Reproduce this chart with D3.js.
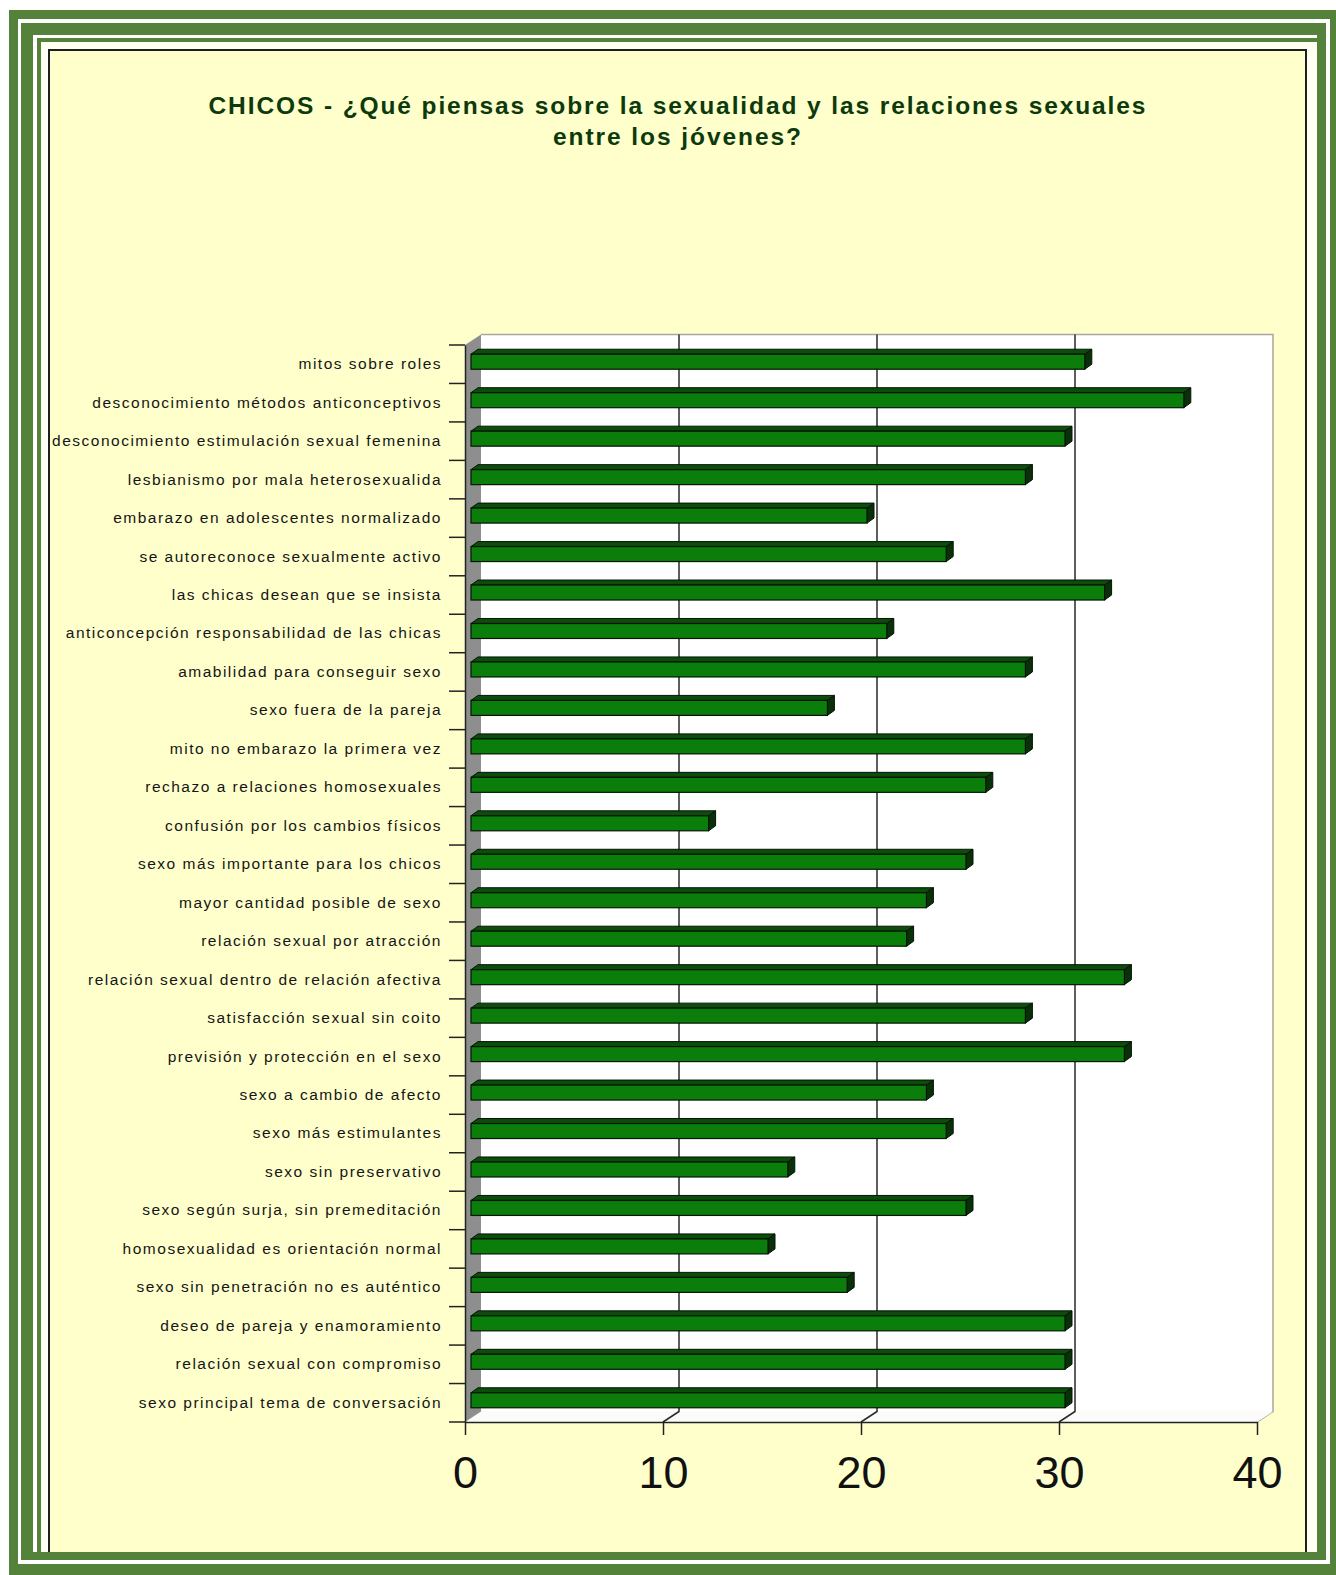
<!DOCTYPE html>
<html>
<head>
<meta charset="utf-8">
<script src="https://cdn.jsdelivr.net/npm/d3@7"></script>
<style>
  body { margin: 0; background: #fff; }
  svg { display: block; }
</style>
</head>
<body>
<svg id="chart" width="1336" height="1575"></svg>
<script>
const categories = [
    'mitos sobre roles',
    'desconocimiento métodos anticonceptivos',
    'desconocimiento estimulación sexual femenina',
    'lesbianismo por mala heterosexualida',
    'embarazo en adolescentes normalizado',
    'se autoreconoce sexualmente activo',
    'las chicas desean que se insista',
    'anticoncepción responsabilidad de las chicas',
    'amabilidad para conseguir sexo',
    'sexo fuera de la pareja',
    'mito no embarazo la primera vez',
    'rechazo a relaciones homosexuales',
    'confusión por los cambios físicos',
    'sexo más importante para los chicos',
    'mayor cantidad posible de sexo',
    'relación sexual por atracción',
    'relación sexual dentro de relación afectiva',
    'satisfacción sexual sin coito',
    'previsión y protección en el sexo',
    'sexo a cambio de afecto',
    'sexo más estimulantes',
    'sexo sin preservativo',
    'sexo según surja, sin premeditación',
    'homosexualidad es orientación normal',
    'sexo sin penetración no es auténtico',
    'deseo de pareja y enamoramiento',
    'relación sexual con compromiso',
    'sexo principal tema de conversación'
];
const values = [31, 36, 30, 28, 20, 24, 32, 21, 28, 18, 28, 26, 12, 25, 23, 22, 33, 28, 33, 23, 24, 16, 25, 15, 19, 30, 30, 30];
const xTicks = [0, 10, 20, 30, 40];
const titleLines = [
    'CHICOS - ¿Qué piensas sobre la sexualidad y las relaciones sexuales',
    'entre los jóvenes?'
];

const svg = d3.select('#chart');
const green = '#55823a';

// page frame
const frame = [
    [9, 10, 1336, 1575, green],
    [18, 19, 1330, 1564, '#ffffff'],
    [21, 23, 1326, 1560, green],
    [33, 35, 1317, 1552, '#ffffff'],
    [37, 38, 1317, 1552, green],
    [41, 42, 1317, 1552, '#fffff4']
];
frame.forEach(f => {
    svg.append('rect')
        .attr('x', f[0]).attr('y', f[1])
        .attr('width', f[2] - f[0]).attr('height', f[3] - f[1])
        .attr('fill', f[4]);
});

svg.append('rect')
    .attr('x', 49).attr('y', 50)
    .attr('width', 1306 - 49).attr('height', 1552 - 50)
    .attr('fill', '#ffffcc');
svg.append('path')
    .attr('d', 'M49,1552V50H1306V1552')
    .attr('fill', 'none')
    .attr('stroke', '#1e1e1e')
    .attr('stroke-width', 2);

// title
svg.append('g')
    .selectAll('text')
    .data(titleLines)
    .join('text')
    .attr('x', 677)
    .attr('y', (d, i) => 114 + i * 31)
    .attr('text-anchor', 'middle')
    .attr('font-family', 'Arial, "Liberation Sans", sans-serif')
    .attr('font-size', 24.5)
    .attr('font-weight', 'bold')
    .attr('fill', '#0d3a0d')
    .attr('textLength', (d, i) => i === 0 ? 937 : 248)
    .attr('lengthAdjust', 'spacing')
    .text(d => d);

// scales
const x = d3.scaleLinear().domain([0, 40]).range([465, 1257]);
const y = d3.scaleBand().domain(categories).range([345, 1422]);
const depth = { x: 16, y: -10.5 };
const yTop = y.range()[0], yBottom = y.range()[1];

// back wall
svg.append('rect')
    .attr('x', x(0) + depth.x).attr('y', yTop + depth.y)
    .attr('width', x(40) - x(0)).attr('height', yBottom - yTop)
    .attr('fill', '#ffffff');
svg.append('path')
    .attr('d', `M${x(0) + depth.x},${yTop + depth.y}H${x(40) + depth.x}V${yBottom + depth.y}L${x(40)},${yBottom}`)
    .attr('fill', 'none')
    .attr('stroke', '#a8a8a0')
    .attr('stroke-width', 1.5);

// floor
svg.append('path')
    .attr('d', `M${x(0)},${yBottom}L${x(0) + depth.x},${yBottom + depth.y}H${x(40) + depth.x}L${x(40)},${yBottom}Z`)
    .attr('fill', '#fbfbfb');

// side wall
svg.append('path')
    .attr('d', `M${x(0)},${yTop}L${x(0) + depth.x},${yTop + depth.y}V${yBottom + depth.y}L${x(0)},${yBottom}Z`)
    .attr('fill', '#8e8e8e');

// gridlines
svg.append('g')
    .selectAll('path')
    .data(xTicks.slice(1, -1))
    .join('path')
    .attr('d', d => `M${x(d) + depth.x},${yTop + depth.y}V${yBottom + depth.y}L${x(d)},${yBottom}`)
    .attr('fill', 'none')
    .attr('stroke', '#2a2a2a')
    .attr('stroke-width', 1.5);

// bars
const barH = 15, barOff = { x: 6, y: -2.5 }, barDepth = { x: 7, y: -5 };
const bars = svg.append('g')
    .selectAll('g')
    .data(categories.map((c, i) => ({ c, v: values[i] })))
    .join('g');

bars.each(function (d) {
    const g = d3.select(this);
    const x0 = x(0) + barOff.x, x1 = x(d.v) + barOff.x;
    const yt = y(d.c) + y.bandwidth() / 2 + barOff.y - barH / 2, yb = yt + barH;
    const dx = barDepth.x, dy = barDepth.y;
    g.append('path')
        .attr('d', `M${x0},${yt}L${x0 + dx},${yt + dy}H${x1 + dx}L${x1},${yt}Z`)
        .attr('fill', '#0c4d0c').attr('stroke', '#051505').attr('stroke-width', 1)
        .attr('stroke-linejoin', 'round');
    g.append('path')
        .attr('d', `M${x1},${yt}L${x1 + dx},${yt + dy}V${yb + dy}L${x1},${yb}Z`)
        .attr('fill', '#0a300a').attr('stroke', '#051505').attr('stroke-width', 1)
        .attr('stroke-linejoin', 'round');
    g.append('rect')
        .attr('x', x0).attr('y', yt)
        .attr('width', x1 - x0).attr('height', barH)
        .attr('fill', '#0a7d0a').attr('stroke', '#051505').attr('stroke-width', 1.2);
});

// category axis
const yAxis = svg.append('g')
    .attr('transform', `translate(${x(0)},0)`)
    .call(d3.axisLeft(y).tickSize(0).tickPadding(23));
yAxis.select('.domain').attr('stroke', '#222').attr('stroke-width', 1.5);
yAxis.selectAll('text')
    .attr('font-family', 'Arial, "Liberation Sans", sans-serif')
    .attr('font-size', 15.5)
    .attr('letter-spacing', 1.5)
    .attr('fill', '#151515');

svg.append('g')
    .selectAll('line')
    .data(d3.range(categories.length + 1))
    .join('line')
    .attr('x1', x(0) - 16).attr('x2', x(0))
    .attr('y1', i => yTop + i * y.step())
    .attr('y2', i => yTop + i * y.step())
    .attr('stroke', '#222')
    .attr('stroke-width', 1.5);

// value axis
const xAxis = svg.append('g')
    .attr('transform', `translate(0,${yBottom})`)
    .call(d3.axisBottom(x).tickValues(xTicks).tickSizeInner(13).tickSizeOuter(0).tickPadding(21));
xAxis.select('.domain').attr('stroke', '#222').attr('stroke-width', 1.5);
xAxis.selectAll('line').attr('stroke', '#222').attr('stroke-width', 1.5);
xAxis.selectAll('text')
    .attr('font-family', 'Arial, "Liberation Sans", sans-serif')
    .attr('font-size', 45)
    .attr('fill', '#111');
</script>
</body>
</html>
